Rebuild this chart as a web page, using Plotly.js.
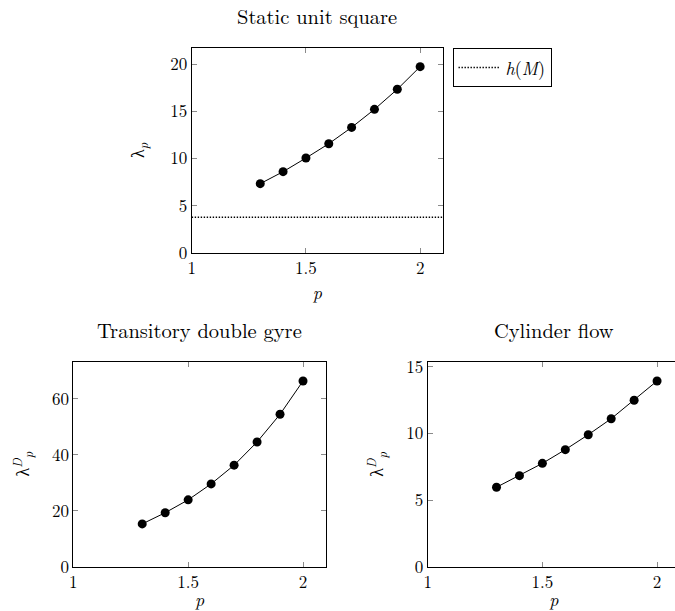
<!DOCTYPE html>
<html><head><meta charset="utf-8">
<script src="https://cdn.plot.ly/plotly-3.0.1.min.js"></script>
<style>html,body{margin:0;padding:0;overflow:hidden;background:#fff;}#plot{width:700px;height:611px;}</style>
</head><body><div id="plot"></div>
<script>
const pValues = [1.3, 1.4, 1.5, 1.6, 1.7, 1.8, 1.9, 2.0];
const staticSquare = [7.33, 8.6, 10.05, 11.57, 13.3, 15.22, 17.35, 19.75];
const doubleGyre = [15.3, 19.3, 23.9, 29.6, 36.3, 44.6, 54.5, 66.4];
const cylinderFlow = [5.96, 6.83, 7.75, 8.78, 9.9, 11.1, 12.48, 13.93];
const hM = 3.76;
const hLineX = [1, 2.1];
const xTicks = [1, 1.5, 2];
const xTickText = ['1', '1.5', '2'];
const titles = ['Static unit square', 'Transitory double gyre', 'Cylinder flow'];

const W = 700, H = 611;
const FONT = 'Latin Modern Roman';

function mk(x, y, xa, ya) {
  return {x: x, y: y, xaxis: xa, yaxis: ya, type: 'scatter', mode: 'lines+markers',
    line: {color: 'black', width: 1}, marker: {color: 'black', size: 9},
    showlegend: false, hoverinfo: 'skip'};
}
const traces = [
  mk(pValues, staticSquare, 'x', 'y'),
  {x: hLineX, y: [hM, hM], xaxis: 'x', yaxis: 'y', type: 'scatter', mode: 'lines',
   line: {color: 'black', width: 1.4, dash: '1.4px,1.6px'}, name: '<i>h</i>(<i>M</i>)', showlegend: true},
  mk(pValues, doubleGyre, 'x2', 'y2'),
  mk(pValues, cylinderFlow, 'x3', 'y3')
];

function xax(l, r, anchor) {
  return {domain: [l / W, r / W], range: [1, 2.1], anchor: anchor,
    tickvals: xTicks, ticktext: xTickText, ticks: 'inside', ticklen: 5, tickcolor: '#8a8a8a',
    showline: true, linecolor: 'black', linewidth: 1, mirror: 'ticks', showgrid: false, zeroline: false,
    tickfont: {family: FONT, size: 17, color: 'black'},
    title: {text: '<i>p</i>', font: {family: FONT, size: 18, color: 'black'}, standoff: 0}};
}
function yax(top, bot, range, ticks, anchor, title, so) {
  return {domain: [1 - bot / H, 1 - top / H], range: range, anchor: anchor,
    tickvals: ticks, ticks: 'inside', ticklen: 5, tickcolor: '#8a8a8a',
    showline: true, linecolor: 'black', linewidth: 1, mirror: 'ticks', showgrid: false, zeroline: false,
    tickfont: {family: FONT, size: 17, color: 'black'},
    title: {text: title, font: {family: FONT, size: 18, color: 'black'}, standoff: so}};
}

const layout = {
  width: W, height: H, margin: {l: 0, r: 0, t: 0, b: 0},
  paper_bgcolor: 'white', plot_bgcolor: 'white',
  font: {family: FONT, color: 'black'},
  xaxis: xax(191.7, 443, 'y'),
  yaxis: yax(48.3, 252.7, [0, 21.7], [0, 5, 10, 15, 20], 'x', 'λ<sub><i>p</i></sub>', 20),
  xaxis2: xax(73.3, 326, 'y2'),
  yaxis2: yax(361.7, 566.7, [0, 73.3], [0, 20, 40, 60], 'x2', 'λ<sup><i>D</i></sup><sub><i>p</i></sub>', 17),
  xaxis3: xax(427.7, 680, 'y3'),
  yaxis3: yax(362.3, 566.7, [0, 15.33], [0, 5, 10, 15], 'x3', 'λ<sup><i>D</i></sup><sub><i>p</i></sub>', 17),
  showlegend: true,
  legend: {x: 452.5 / W, y: 1 - 48.3 / H, xanchor: 'left', yanchor: 'top', bgcolor: 'white',
    bordercolor: 'black', borderwidth: 1, font: {family: FONT, size: 18, color: 'black'},
    itemwidth: 42, tracegroupgap: 0},
  annotations: titles.map(function (t, i) {
    const s = i === 0 ? '' : String(i + 1);
    return {text: t, xref: 'x' + s + ' domain', yref: 'y' + s + ' domain', x: 0.5, y: 1, yshift: 16,
      showarrow: false, xanchor: 'center', yanchor: 'bottom',
      font: {family: FONT, size: 20.5, color: 'black'}};
  })
};

Plotly.newPlot('plot', traces, layout, {staticPlot: true, displayModeBar: false});
</script></body></html>
